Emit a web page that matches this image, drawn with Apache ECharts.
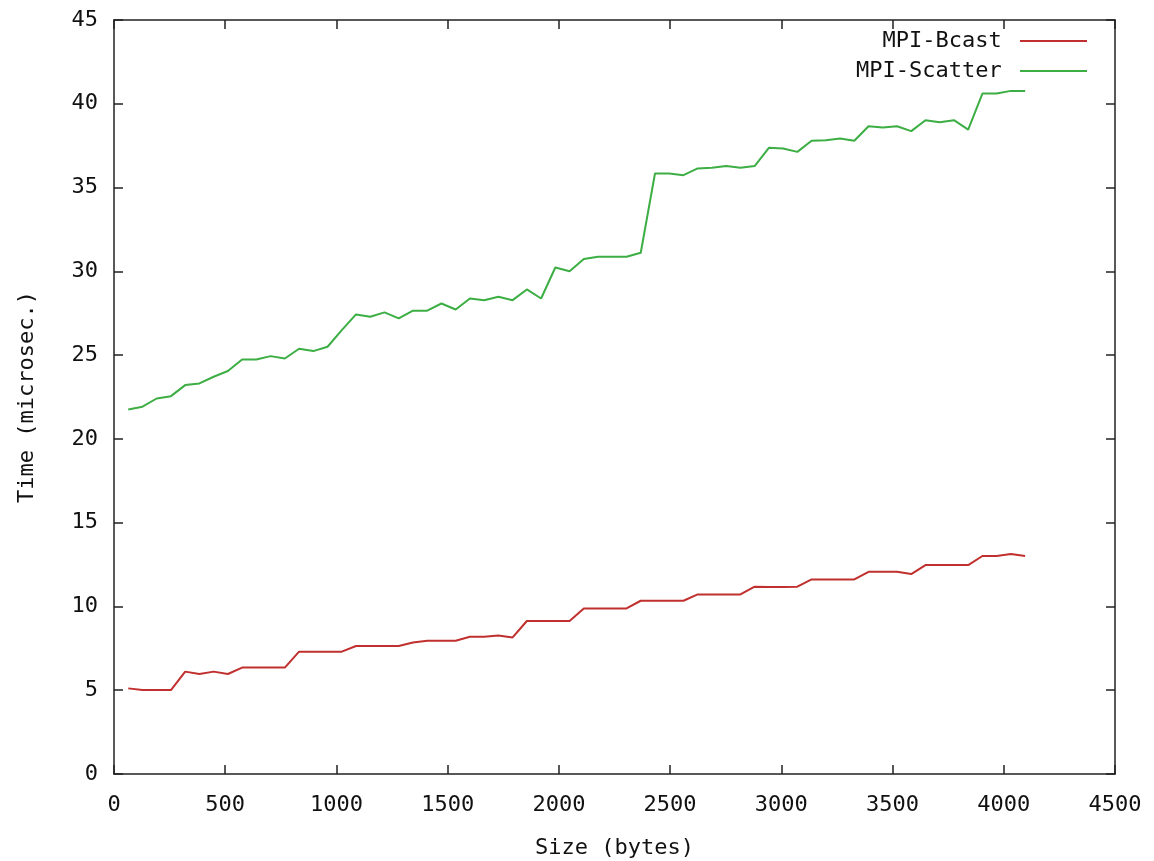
<!DOCTYPE html>
<html>
<head>
<meta charset="utf-8">
<title>MPI-Bcast vs MPI-Scatter</title>
<script src="https://cdn.jsdelivr.net/npm/echarts@6/dist/echarts.min.js"></script>
<style>
  html, body { margin: 0; padding: 0; background: #fff; }
  #chart { width: 1154px; height: 861px; }
</style>
</head>
<body>
<div id="chart"></div>
<script>
// message sizes (bytes)
var sizes = [
  64, 128, 192, 256, 320, 384, 448, 512, 576, 640, 704, 768, 832, 896, 960, 1024,
  1088, 1152, 1216, 1280, 1344, 1408, 1472, 1536, 1600, 1664, 1728, 1792, 1856, 1920, 1984, 2048,
  2112, 2176, 2240, 2304, 2368, 2432, 2496, 2560, 2624, 2688, 2752, 2816, 2880, 2944, 3008, 3072,
  3136, 3200, 3264, 3328, 3392, 3456, 3520, 3584, 3648, 3712, 3776, 3840, 3904, 3968, 4032, 4096
];

// time in microseconds
var bcast = [
  5.11, 5.01, 5.01, 5.01, 6.11, 5.97, 6.11, 5.97, 6.35, 6.35, 6.35, 6.35, 7.30, 7.30, 7.30, 7.30,
  7.64, 7.64, 7.64, 7.64, 7.85, 7.95, 7.95, 7.95, 8.19, 8.19, 8.27, 8.15, 9.13, 9.13, 9.13, 9.13,
  9.88, 9.88, 9.88, 9.88, 10.34, 10.34, 10.34, 10.34, 10.72, 10.72, 10.72, 10.72, 11.18, 11.16, 11.16, 11.18,
  11.61, 11.61, 11.61, 11.61, 12.07, 12.07, 12.07, 11.93, 12.47, 12.47, 12.47, 12.47, 13.01, 13.01, 13.13, 13.01
];

var scatter = [
  21.76, 21.92, 22.41, 22.55, 23.21, 23.31, 23.71, 24.05, 24.74, 24.74, 24.94, 24.80, 25.38, 25.24, 25.50, 26.49,
  27.43, 27.29, 27.55, 27.19, 27.65, 27.65, 28.08, 27.72, 28.38, 28.28, 28.48, 28.28, 28.92, 28.38, 30.23, 30.01,
  30.73, 30.87, 30.87, 30.87, 31.11, 35.84, 35.84, 35.74, 36.14, 36.18, 36.28, 36.18, 36.28, 37.37, 37.33, 37.13,
  37.79, 37.83, 37.93, 37.79, 38.66, 38.58, 38.66, 38.37, 39.02, 38.90, 39.02, 38.46, 40.61, 40.61, 40.77, 40.77
];

var xTicks = { min: 0, max: 4500, interval: 500 };
var yTicks = { min: 0, max: 45, interval: 5 };

function pairs(ys) {
  return sizes.map(function (s, i) { return [s, ys[i]]; });
}

var font = '"DejaVu Sans Mono", "Liberation Mono", monospace';
var axisColor = '#222';
var tickStyle = { show: true, inside: true, length: 9, lineStyle: { color: axisColor, width: 1.5 } };
var lineStyle = { show: true, onZero: false, lineStyle: { color: axisColor, width: 1.5 } };
function plain(v) { return String(v); }

var chart = echarts.init(document.getElementById('chart'));

var option = {
  backgroundColor: '#fff',
  animation: false,
  textStyle: { fontFamily: font },
  grid: {
    left: 114, right: 39, top: 20, bottom: 87,
    outerBoundsMode: 'none'
  },
  legend: {
    orient: 'vertical',
    right: 62,
    top: 25,
    align: 'right',
    icon: 'rect',
    itemWidth: 67,
    itemHeight: 2,
    itemGap: 8,
    formatter: '{name} ',
    textStyle: { fontFamily: font, fontSize: 22, color: '#111' },
    data: ['MPI-Bcast', 'MPI-Scatter']
  },
  xAxis: [
    {
      type: 'value',
      min: xTicks.min, max: xTicks.max, interval: xTicks.interval,
      name: 'Size (bytes)',
      nameLocation: 'middle',
      nameGap: 63,
      nameTextStyle: { fontFamily: font, fontSize: 22, color: '#111' },
      axisLine: lineStyle,
      axisTick: tickStyle,
      axisLabel: { fontFamily: font, fontSize: 22, color: '#111', margin: 20, formatter: plain },
      splitLine: { show: false }
    },
    {
      type: 'value', position: 'top',
      min: xTicks.min, max: xTicks.max, interval: xTicks.interval,
      axisLine: lineStyle,
      axisTick: tickStyle,
      axisLabel: { show: false },
      splitLine: { show: false }
    }
  ],
  yAxis: [
    {
      type: 'value',
      min: yTicks.min, max: yTicks.max, interval: yTicks.interval,
      name: 'Time (microsec.)',
      nameLocation: 'middle',
      nameGap: 76,
      nameTextStyle: { fontFamily: font, fontSize: 22, color: '#111' },
      axisLine: lineStyle,
      axisTick: tickStyle,
      axisLabel: { fontFamily: font, fontSize: 22, color: '#111', margin: 16, formatter: plain },
      splitLine: { show: false }
    },
    {
      type: 'value', position: 'right',
      min: yTicks.min, max: yTicks.max, interval: yTicks.interval,
      axisLine: lineStyle,
      axisTick: tickStyle,
      axisLabel: { show: false },
      splitLine: { show: false }
    }
  ],
  series: [
    {
      name: 'MPI-Bcast',
      type: 'line',
      xAxisIndex: 0, yAxisIndex: 0,
      data: pairs(bcast),
      symbol: 'none',
      color: '#c0302e',
      lineStyle: { color: '#c0302e', width: 2 }
    },
    {
      name: 'MPI-Scatter',
      type: 'line',
      xAxisIndex: 0, yAxisIndex: 0,
      data: pairs(scatter),
      symbol: 'none',
      color: '#3cae44',
      lineStyle: { color: '#3cae44', width: 2 }
    }
  ]
};

chart.setOption(option);
</script>
</body>
</html>
